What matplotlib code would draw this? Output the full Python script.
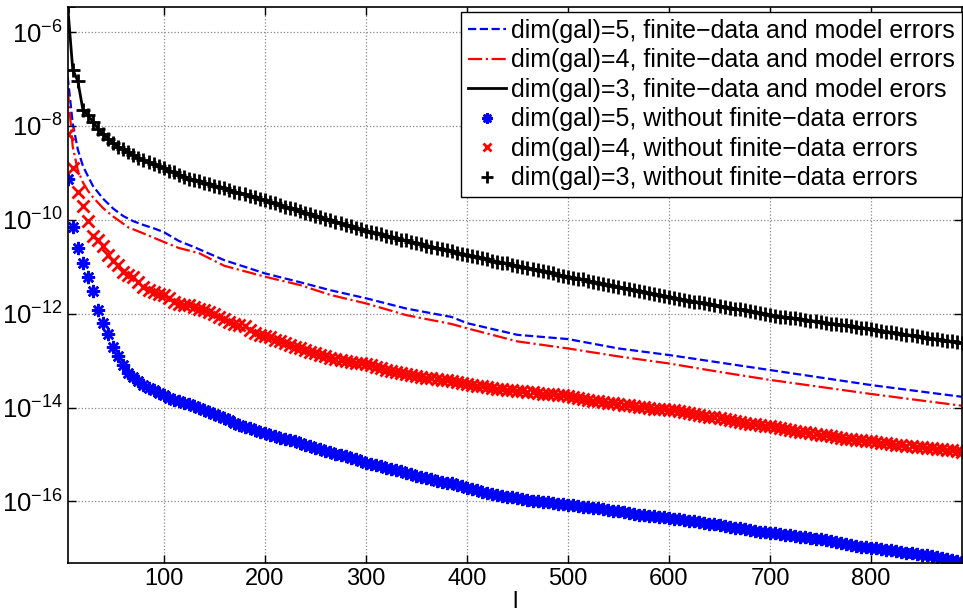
import numpy as np
import matplotlib
matplotlib.use("Agg")
import matplotlib.pyplot as plt
from matplotlib.ticker import FixedLocator, NullLocator, LogFormatterSciNotation

plt.rcParams['font.family'] = ['Liberation Sans', 'DejaVu Sans']
plt.rcParams['mathtext.fontset'] = 'custom'
plt.rcParams['mathtext.rm'] = 'Liberation Sans'
plt.rcParams['mathtext.it'] = 'Liberation Sans:italic'

# l values of the marker series (every 5)
l_pts = np.arange(5, 891, 5)

# log10 of the error, dim(gal)=3, without finite-data errors (also the black line)
log_err3 = [
    -5.45, -6.80, -7.04, -7.65, -7.77, -7.91, -8.06, -8.18, -8.27, -8.36,
    -8.44, -8.50, -8.56, -8.62, -8.68, -8.73, -8.77, -8.82, -8.86, -8.90,
    -8.95, -8.99, -9.04, -9.08, -9.12, -9.15, -9.18, -9.21, -9.24, -9.27,
    -9.30, -9.33, -9.36, -9.40, -9.43, -9.46, -9.49, -9.52, -9.55, -9.58,
    -9.62, -9.65, -9.68, -9.72, -9.75, -9.78, -9.81, -9.85, -9.88, -9.91,
    -9.94, -9.98, -10.01, -10.04, -10.07, -10.11, -10.14, -10.17, -10.20, -10.23,
    -10.26, -10.29, -10.31, -10.34, -10.37, -10.39, -10.42, -10.44, -10.47, -10.49,
    -10.52, -10.55, -10.57, -10.60, -10.62, -10.64, -10.67, -10.70, -10.72, -10.75,
    -10.77, -10.80, -10.82, -10.84, -10.87, -10.89, -10.91, -10.93, -10.96, -10.98,
    -11.00, -11.03, -11.05, -11.07, -11.10, -11.12, -11.14, -11.17, -11.19, -11.21,
    -11.23, -11.25, -11.27, -11.30, -11.32, -11.34, -11.36, -11.38, -11.40, -11.43,
    -11.45, -11.47, -11.49, -11.51, -11.53, -11.56, -11.58, -11.60, -11.62, -11.64,
    -11.66, -11.68, -11.70, -11.72, -11.74, -11.76, -11.78, -11.80, -11.82, -11.84,
    -11.86, -11.88, -11.90, -11.91, -11.93, -11.95, -11.97, -11.99, -12.01, -12.03,
    -12.04, -12.06, -12.07, -12.09, -12.10, -12.12, -12.13, -12.15, -12.16, -12.18,
    -12.19, -12.21, -12.22, -12.24, -12.25, -12.27, -12.28, -12.30, -12.31, -12.33,
    -12.35, -12.36, -12.38, -12.40, -12.41, -12.43, -12.45, -12.46, -12.48, -12.49,
    -12.51, -12.53, -12.54, -12.56, -12.58, -12.59, -12.61, -12.62,
]

log_err4 = [
    -8.18, -8.89, -9.40, -9.71, -10.02, -10.35, -10.43, -10.55, -10.75, -10.88,
    -10.96, -11.11, -11.18, -11.21, -11.32, -11.43, -11.50, -11.54, -11.58, -11.60,
    -11.66, -11.74, -11.79, -11.82, -11.82, -11.85, -11.89, -11.93, -11.96, -12.01,
    -12.07, -12.12, -12.17, -12.21, -12.24, -12.27, -12.34, -12.42, -12.46, -12.47,
    -12.50, -12.55, -12.59, -12.63, -12.67, -12.71, -12.74, -12.77, -12.81, -12.84,
    -12.87, -12.91, -12.94, -12.97, -12.99, -13.01, -13.03, -13.04, -13.06, -13.07,
    -13.10, -13.13, -13.16, -13.19, -13.21, -13.24, -13.27, -13.29, -13.31, -13.33,
    -13.34, -13.36, -13.38, -13.40, -13.41, -13.42, -13.44, -13.46, -13.48, -13.50,
    -13.52, -13.53, -13.55, -13.57, -13.58, -13.60, -13.61, -13.62, -13.63, -13.64,
    -13.65, -13.66, -13.67, -13.68, -13.70, -13.71, -13.72, -13.73, -13.74, -13.75,
    -13.77, -13.79, -13.81, -13.83, -13.85, -13.87, -13.88, -13.90, -13.91, -13.93,
    -13.94, -13.95, -13.97, -13.98, -13.99, -14.01, -14.02, -14.03, -14.04, -14.05,
    -14.06, -14.08, -14.09, -14.11, -14.13, -14.15, -14.17, -14.19, -14.21, -14.23,
    -14.25, -14.27, -14.29, -14.31, -14.33, -14.34, -14.36, -14.37, -14.39, -14.40,
    -14.42, -14.44, -14.46, -14.48, -14.50, -14.51, -14.53, -14.54, -14.56, -14.58,
    -14.59, -14.61, -14.62, -14.64, -14.66, -14.67, -14.69, -14.70, -14.71, -14.72,
    -14.74, -14.75, -14.76, -14.77, -14.79, -14.80, -14.81, -14.82, -14.83, -14.85,
    -14.86, -14.87, -14.88, -14.89, -14.90, -14.91, -14.93, -14.94,
]

log_err5 = [
    -9.14, -10.15, -10.60, -10.91, -11.21, -11.52, -11.92, -12.19, -12.43, -12.71,
    -12.91, -13.09, -13.26, -13.34, -13.43, -13.52, -13.58, -13.63, -13.68, -13.74,
    -13.79, -13.83, -13.86, -13.90, -13.93, -13.96, -14.00, -14.05, -14.09, -14.13,
    -14.17, -14.22, -14.27, -14.32, -14.37, -14.41, -14.44, -14.48, -14.51, -14.55,
    -14.58, -14.61, -14.64, -14.66, -14.69, -14.72, -14.75, -14.79, -14.82, -14.86,
    -14.89, -14.92, -14.95, -14.98, -15.01, -15.04, -15.07, -15.10, -15.14, -15.17,
    -15.20, -15.22, -15.25, -15.28, -15.30, -15.33, -15.36, -15.39, -15.42, -15.45,
    -15.47, -15.50, -15.53, -15.56, -15.58, -15.60, -15.61, -15.64, -15.68, -15.71,
    -15.74, -15.76, -15.79, -15.81, -15.84, -15.86, -15.88, -15.90, -15.91, -15.93,
    -15.95, -15.96, -15.98, -15.99, -16.01, -16.02, -16.03, -16.05, -16.06, -16.07,
    -16.08, -16.10, -16.11, -16.12, -16.13, -16.14, -16.16, -16.18, -16.20, -16.21,
    -16.23, -16.25, -16.26, -16.28, -16.29, -16.30, -16.31, -16.33, -16.34, -16.35,
    -16.37, -16.38, -16.39, -16.41, -16.42, -16.43, -16.45, -16.47, -16.49, -16.50,
    -16.52, -16.54, -16.56, -16.57, -16.59, -16.61, -16.63, -16.65, -16.66, -16.67,
    -16.68, -16.70, -16.71, -16.72, -16.74, -16.75, -16.76, -16.78, -16.79, -16.81,
    -16.83, -16.84, -16.86, -16.88, -16.90, -16.92, -16.94, -16.96, -16.97, -16.99,
    -17.00, -17.02, -17.03, -17.04, -17.06, -17.07, -17.09, -17.10, -17.12, -17.13,
    -17.15, -17.17, -17.19, -17.21, -17.22, -17.24, -17.26, -17.28,
]

# finite-data and model errors (lines)
l_line5 = [5, 10, 15, 20, 25, 30, 40, 50, 60, 70, 80, 90, 100, 115, 130, 160, 200,
           235, 265, 300, 340, 385, 400, 450, 500, 550, 600, 650, 700, 750, 800, 850, 890]
log_line5 = [-6.95, -7.95, -8.50, -8.85, -9.07, -9.28, -9.55, -9.76, -9.92, -10.03, -10.11,
             -10.18, -10.26, -10.45, -10.58, -10.86, -11.14, -11.33, -11.50, -11.67, -11.89,
             -12.07, -12.20, -12.45, -12.54, -12.74, -12.88, -13.04, -13.20, -13.36, -13.52,
             -13.66, -13.77]

l_line4 = [5, 10, 15, 20, 25, 30, 40, 50, 65, 80, 100, 115, 135, 160, 200, 235, 265, 300,
           340, 385, 400, 450, 500, 550, 600, 650, 700, 750, 800, 850, 890]
log_line4 = [-7.20, -8.45, -8.94, -9.20, -9.38, -9.52, -9.75, -9.93, -10.16, -10.29, -10.47,
             -10.60, -10.71, -10.98, -11.21, -11.39, -11.60, -11.78, -12.03, -12.22, -12.31,
             -12.59, -12.74, -12.91, -13.06, -13.24, -13.41, -13.56, -13.71, -13.85, -13.96]

labels = [
    "dim(gal)=5, finite\u2212data and model errors",
    "dim(gal)=4, finite\u2212data and model errors",
    "dim(gal)=3, finite\u2212data and model erors",
    "dim(gal)=5, without finite\u2212data errors",
    "dim(gal)=4, without finite\u2212data errors",
    "dim(gal)=3, without finite\u2212data errors",
]

fig = plt.figure(figsize=(9.63, 6.15), dpi=100)
ax = fig.add_axes([0.0703, 0.0846, 0.9287, 0.9045])

ax.semilogy(l_line5, 10.0 ** np.array(log_line5), '--', color='#0000ff', lw=1.6, label=labels[0])
ax.semilogy(l_line4, 10.0 ** np.array(log_line4), '-.', color='#ff0000', lw=1.6, label=labels[1])
ax.semilogy(l_pts, 10.0 ** np.array(log_err3), '-', color='black', lw=2.0, label=labels[2])
ax.semilogy(l_pts, 10.0 ** np.array(log_err5), ls='none', marker=(8, 2, 0), ms=9.5,
            mew=1.8, color='#0000ff', label=labels[3])
ax.semilogy(l_pts, 10.0 ** np.array(log_err4), ls='none', marker='x', ms=8,
            mew=2.0, color='#ff0000', label=labels[4])
ax.semilogy(l_pts, 10.0 ** np.array(log_err3), ls='none', marker='+', ms=10.5,
            mew=2.0, color='black', label=labels[5])

ax.set_xlim(5, 890)
ax.set_ylim(10 ** -17.31, 10 ** -5.46)
ax.xaxis.set_major_locator(FixedLocator([100, 200, 300, 400, 500, 600, 700, 800]))
ax.yaxis.set_major_locator(FixedLocator([1e-16, 1e-14, 1e-12, 1e-10, 1e-8, 1e-6]))
ax.yaxis.set_major_formatter(LogFormatterSciNotation())
ax.yaxis.set_minor_locator(NullLocator())
ax.tick_params(which='both', direction='in', top=True, right=True, labelsize=17,
               length=6, width=1)
ax.tick_params(axis='y', labelsize=18.5)
ax.grid(True, ls=':', color='#888888', lw=0.9)
for s in ax.spines.values():
    s.set_linewidth(1.2)

ax.set_xlabel("l", fontsize=17, labelpad=1)

leg = ax.legend(loc='upper right', bbox_to_anchor=(0.9995, 0.9905), borderaxespad=0,
                fontsize=18, fancybox=False, framealpha=1, edgecolor='black',
                handlelength=1.5, handletextpad=0.2, labelspacing=0.22,
                borderpad=0.28, numpoints=1, markerscale=0.8)
leg.get_frame().set_linewidth(1.0)

fig.savefig("out.png", dpi=100)
